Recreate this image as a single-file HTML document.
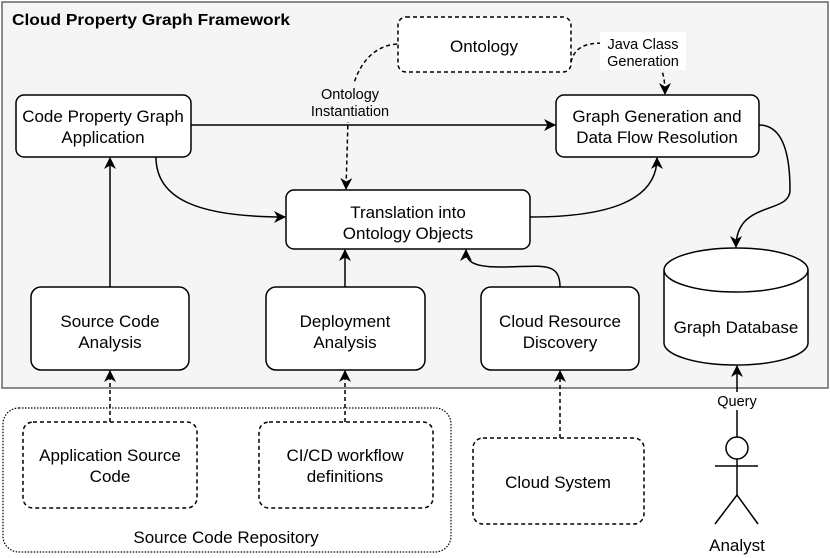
<!DOCTYPE html>
<html><head><meta charset="utf-8"><style>
html,body{margin:0;padding:0;background:#fff;}
svg{display:block;font-family:"Liberation Sans",Arial,sans-serif;}
</style></head><body>
<svg width="830" height="558" viewBox="0 0 830 558" xmlns="http://www.w3.org/2000/svg">
<defs>
<marker id="a" markerWidth="12" markerHeight="12" refX="11" refY="6" orient="auto" markerUnits="userSpaceOnUse">
<path d="M0,0 L12,6 L0,12 L3.5,6 Z" fill="#000"/></marker>
</defs>
<rect x="2" y="2" width="826" height="386" fill="#f5f5f5" stroke="#666" stroke-width="1.5"/>
<text x="12" y="25" font-size="16" font-weight="bold" textLength="278" lengthAdjust="spacingAndGlyphs">Cloud Property Graph Framework</text>

<g fill="#fff" stroke="#000" stroke-width="1.5">
<rect x="398" y="17" width="173" height="55" rx="8" stroke-dasharray="4,3"/>
<rect x="16" y="95" width="175" height="62" rx="8"/>
<rect x="556" y="95" width="203" height="62" rx="8"/>
<rect x="286" y="190" width="244" height="59" rx="8"/>
<rect x="31" y="287" width="158" height="83" rx="10"/>
<rect x="266" y="287" width="159" height="83" rx="10"/>
<rect x="481" y="287" width="158" height="83" rx="10"/>
<path d="M664,270 L664,343 A72,22 0 0 0 808,343 L808,270" />
<ellipse cx="736" cy="270" rx="72" ry="22"/>
<rect x="3" y="408" width="448" height="144" rx="16" stroke-dasharray="1.5,1.5" stroke-width="1.2"/>
<rect x="23" y="422" width="174" height="86" rx="10" stroke-dasharray="4,3"/>
<rect x="259" y="422" width="174" height="86" rx="10" stroke-dasharray="4,3"/>
<rect x="473" y="438" width="171" height="86" rx="10" stroke-dasharray="4,3"/>
<circle cx="737" cy="448" r="11"/>
</g>
<g fill="none" stroke="#000" stroke-width="1.5">
<line x1="715" y1="466" x2="758" y2="466"/>
<line x1="737" y1="459" x2="737" y2="495"/>
<path d="M715,524 L737,495 L758,524"/>
</g>

<g fill="none" stroke="#000" stroke-width="1.5" marker-end="url(#a)">
<line x1="191" y1="125" x2="555" y2="125"/>
<path d="M156,157 C156,200 200,217 285,217"/>
<path d="M530,217 C610,217 657,200 657,158"/>
<path d="M759,125 C790,125 790,175 790,190 C790,215 736,200 736,247"/>
<line x1="110" y1="287" x2="110" y2="158"/>
<line x1="345" y1="287" x2="345" y2="250"/>
<path d="M560,287 C560,260 540,267 500,267 C470,267 466,260 466,250"/>
<line x1="737" y1="437" x2="737" y2="366"/>
</g>
<g fill="none" stroke="#000" stroke-width="1.5" stroke-dasharray="4,3" marker-end="url(#a)">
<path d="M397,44 C370,46 350,70 348,120 L346,189"/>
<path d="M571,62 C575,45 590,40 620,45 C660,50 665,70 665,94"/>
<line x1="110" y1="422" x2="110" y2="371"/>
<line x1="345" y1="422" x2="345" y2="371"/>
<line x1="560" y1="438" x2="560" y2="371"/>
</g>

<rect x="600" y="32" width="86" height="38" fill="#fff"/>
<rect x="306" y="84" width="88" height="38" fill="#f5f5f5"/>
<rect x="713" y="392" width="48" height="18" fill="#fff"/>

<g font-size="17" text-anchor="middle" fill="#000">
<text x="484" y="52">Ontology</text>
<text x="103" y="122">Code Property Graph</text>
<text x="103" y="143">Application</text>
<text x="657" y="122">Graph Generation and</text>
<text x="657" y="143">Data Flow Resolution</text>
<text x="408" y="218">Translation into</text>
<text x="408" y="239">Ontology Objects</text>
<text x="110" y="327">Source Code</text>
<text x="110" y="348">Analysis</text>
<text x="345" y="327">Deployment</text>
<text x="345" y="348">Analysis</text>
<text x="560" y="327">Cloud Resource</text>
<text x="560" y="348">Discovery</text>
<text x="736" y="333">Graph Database</text>
<text x="110" y="461">Application Source</text>
<text x="110" y="482">Code</text>
<text x="345" y="461">CI/CD workflow</text>
<text x="345" y="482">definitions</text>
<text x="558" y="488">Cloud System</text>
<text x="226" y="543">Source Code  Repository</text>
<text x="737" y="551">Analyst</text>
</g>
<g font-size="14.5" text-anchor="middle" fill="#000">
<text x="643" y="49">Java Class</text>
<text x="643" y="66">Generation</text>
<text x="350" y="99">Ontology</text>
<text x="350" y="116">Instantiation</text>
<text x="737" y="406">Query</text>
</g>
</svg>
</body></html>
